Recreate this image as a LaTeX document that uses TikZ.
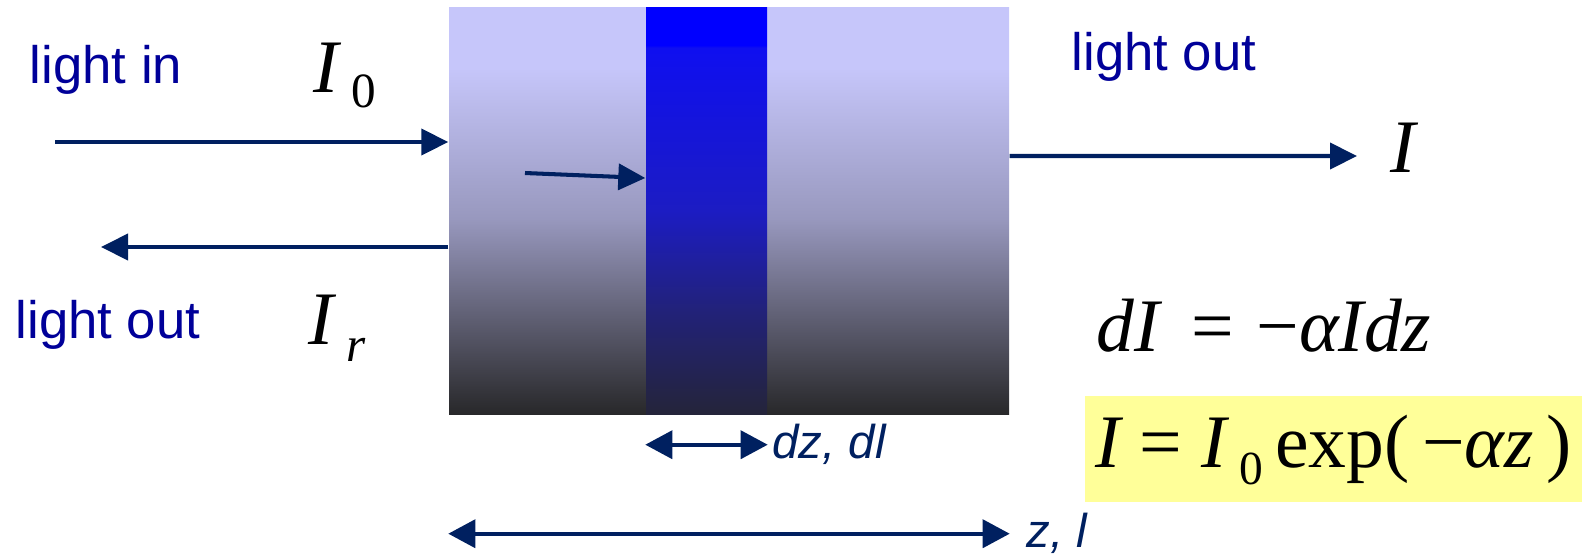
\documentclass[tikz,border=0pt]{standalone}
\usepackage{fontspec}
\setmainfont{Liberation Sans}
\newfontfamily\tms{Liberation Serif}
\usetikzlibrary{arrows.meta,positioning}
\definecolor{arrnavy}{RGB}{0,32,96}
\definecolor{lblue}{RGB}{0,0,153}
\definecolor{slabtop}{RGB}{198,198,250}
\definecolor{slabmid}{RGB}{152,152,190}
\definecolor{slabbot}{RGB}{40,40,42}
\definecolor{laytop}{RGB}{15,15,240}
\definecolor{laymid}{RGB}{28,28,195}
\definecolor{laylow}{RGB}{34,34,120}
\definecolor{laybot}{RGB}{36,36,58}
\definecolor{hlyellow}{RGB}{255,255,153}
\pgfdeclareverticalshading{slabshade}{100bp}{color(0bp)=(slabbot); color(25bp)=(slabbot); color(49bp)=(slabmid); color(67.5bp)=(slabtop); color(100bp)=(slabtop)}
\pgfdeclareverticalshading{layershade}{100bp}{color(0bp)=(laybot); color(25bp)=(laybot); color(37.5bp)=(laylow); color(50bp)=(laymid); color(70bp)=(laytop); color(70.3bp)=(blue); color(100bp)=(blue)}
\newcommand{\lowsub}[3]{\raisebox{#1}{\fontsize{#2}{#2}\selectfont #3}}

\begin{document}
\begin{tikzpicture}[font=\fontsize{15}{18}\selectfont,
  arr/.style={-{Triangle[length=2.7mm,width=2.6mm]},arrnavy,line width=1.15pt},
  darr/.style={{Triangle[length=2.7mm,width=2.8mm]}-{Triangle[length=2.7mm,width=2.8mm]},arrnavy,line width=1.05pt},
  lbl/.style={text=lblue,inner sep=0pt},
  eq/.style={font=\tms\fontsize{21.5}{24}\selectfont,inner sep=0pt}]
\useasboundingbox (0,0) rectangle (15.82,5.53);
% absorbing slab and the thin layer dz
\node[shade,shading=slabshade,minimum width=5.6cm,minimum height=4.07cm,inner sep=0pt] (slab) at (7.29,3.425) {};
\node[shade,shading=layershade,minimum width=1.21cm,minimum height=4.07cm,inner sep=0pt] (layer) at (7.065,3.425) {};
% left side
\node[lbl] (lightin) at (1.06,4.83) {light in};
\node[lbl] (lightoutL) at (1.08,2.28) {light out};
\node[eq,anchor=base west] (I0) at (3.13,4.61) {\itshape I\,\lowsub{-4.4pt}{14}{\upshape 0}};
\node[eq,anchor=base west] (Ir) at (3.08,2.09) {\itshape I\,\lowsub{-5pt}{14}{r}};
\coordinate (inL) at (0.55,4.11); \coordinate (refL) at (1.01,3.06);
\draw[arr] (inL)--(inL -| slab.west);
\draw[arr] (slab.west |- refL)--(refL);
\coordinate (inner) at (5.25,3.80);
\draw[arr] (inner)--([yshift=3.25mm]layer.west);
% right side
\node[lbl] (lightoutR) at (11.64,4.96) {light out};
\node[eq] (Iout) at (14.03,4.05) {\itshape I};
\coordinate (outR) at (13.57,3.97);
\draw[arr] ([yshift=5.45mm]slab.east)--(outR);
\node[eq] (dIeq) at (12.64,2.27) {\itshape dI\hspace{0.42em}\upshape=\hspace{0.3em}−\itshape αIdz};
\node[fill=hlyellow,minimum width=4.97cm,minimum height=1.06cm,inner sep=0pt] (sol) at (13.335,1.04) {};
\node[eq,anchor=base west] (soleq) at (10.95,0.86) {\itshape I \upshape= \itshape I\,\lowsub{-5pt}{13.5}{\upshape 0}\upshape\,exp(\,−\itshape αz\upshape\,)};
% widths
\draw[darr] ([yshift=-3mm]layer.south west)--([yshift=-3mm]layer.south east);
\node[lbl,text=arrnavy,anchor=west,font=\itshape\fontsize{13.5}{15}\selectfont] (dzlbl) at ([xshift=0.4mm,yshift=-3mm]layer.south east) {dz, dl};
\draw[darr] ([yshift=-11.9mm]slab.south west)--([yshift=-11.9mm]slab.south east);
\node[lbl,text=arrnavy,anchor=west,font=\itshape\fontsize{13.5}{15}\selectfont] (zlbl) at ([xshift=1.6mm,yshift=-11.9mm]slab.south east) {z, l};
\end{tikzpicture}
\end{document}
